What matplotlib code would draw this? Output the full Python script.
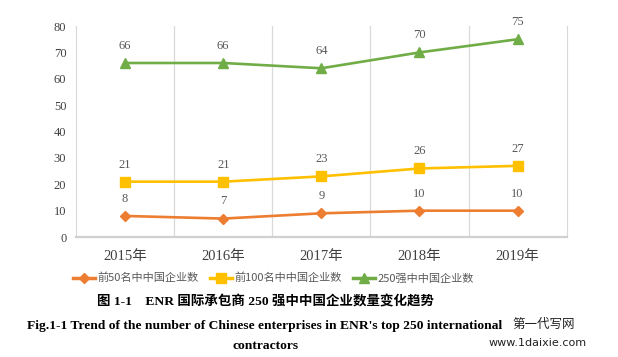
import matplotlib
matplotlib.use('Agg')
import matplotlib.pyplot as plt
from matplotlib.lines import Line2D

years = ['2015年', '2016年', '2017年', '2018年', '2019年']
top50 = [8, 7, 9, 10, 10]
top100 = [21, 21, 23, 26, 27]
top250 = [66, 66, 64, 70, 75]
names = ['前50名中中国企业数', '前100名中中国企业数', '250强中中国企业数']

SERIF = ['Liberation Serif', 'Noto Sans CJK SC', 'DejaVu Sans']
CJK = ['Noto Sans CJK SC', 'DejaVu Sans']

series = [
    (top50, '#ED7D31', 'D', 5),
    (top100, '#FFC000', 's', 6.5),
    (top250, '#70AD47', '^', 6.5),
]

fig = plt.figure(figsize=(6.18, 3.57), dpi=100)
ax = fig.add_axes([0.123, 0.336, 0.794, 0.591])

xs = list(range(len(years)))
for (vals, col, mk, ms), name in zip(series, names):
    ax.plot(xs, vals, color=col, marker=mk, markersize=ms,
            linewidth=1.9, label=name, zorder=3)
    for x, v in zip(xs, vals):
        ax.annotate(str(v), (x, v), xytext=(0, 8), textcoords='offset points',
                    ha='center', va='bottom', fontsize=9, color='#595959',
                    family=SERIF)

ax.set_xlim(-0.5, len(years) - 0.5)
ax.set_ylim(0, 80)
ax.set_yticks(range(0, 81, 10))
ax.set_xticks(xs)
ax.set_xticklabels(years, family=SERIF, fontsize=10.5, color='#404040')
for lab in ax.get_yticklabels():
    lab.set_family(SERIF)
    lab.set_fontsize(9)
    lab.set_color('#404040')
ax.tick_params(axis='y', length=0, pad=7)
ax.tick_params(axis='x', length=0, pad=9)

# vertical separators between categories
for b in [0.5, 1.5, 2.5, 3.5]:
    ax.axvline(b, color='#D9D9D9', linewidth=0.9, zorder=1)

ax.spines['top'].set_visible(False)
ax.spines['left'].set_color('#D9D9D9')
ax.spines['right'].set_color('#D9D9D9')
ax.spines['bottom'].set_color('#D0D0D0')
ax.spines['bottom'].set_linewidth(1.6)

leg_handles = [Line2D([0], [0], color=c, marker=m, markersize=ms, linewidth=2.5)
               for _, c, m, ms in series]
fig.legend(leg_handles, names, loc='center', bbox_to_anchor=(0.442, 0.221),
           ncol=3, frameon=False, prop={'family': CJK, 'size': 8},
           handlelength=2.0, handletextpad=0.2, columnspacing=1.0,
           labelcolor='#595959')

cx = 0.429
fig.text(cx, 0.155, '图 1-1    ENR 国际承包商 250 强中中国企业数量变化趋势',
         ha='center', va='center', fontsize=9.7, fontweight='bold',
         family=['Liberation Serif', 'Noto Sans CJK SC'])
fig.text(cx, 0.088, "Fig.1-1 Trend of the number of Chinese enterprises in ENR's top 250 international",
         ha='center', va='center', fontsize=9.7, fontweight='bold', family=SERIF)
fig.text(cx, 0.030, 'contractors', ha='center', va='center', fontsize=9.7,
         fontweight='bold', family=SERIF)

# watermark
fig.text(0.88, 0.090, '第一代写网', ha='center', va='center', fontsize=9,
         family=CJK, color='#222222')
fig.text(0.87, 0.040, 'www.1daixie.com', ha='center', va='center', fontsize=8,
         family=['DejaVu Sans'], color='#222222')

fig.savefig('out.png', dpi=100)
